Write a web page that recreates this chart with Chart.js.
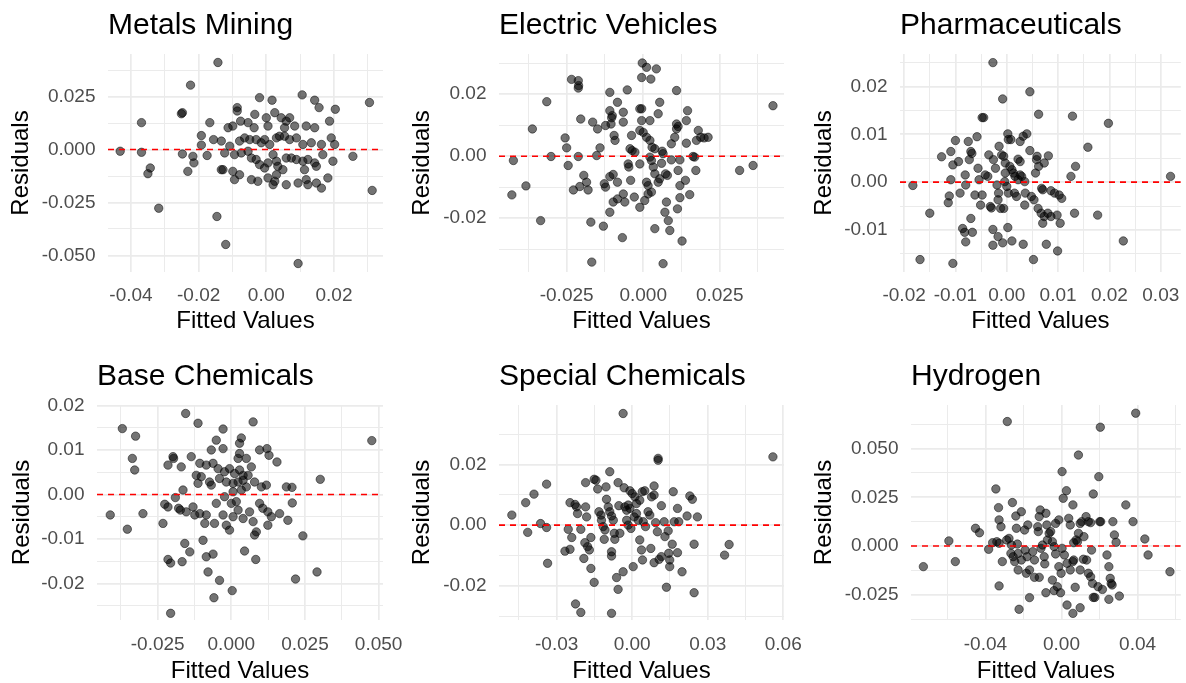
<!DOCTYPE html>
<html>
<head>
<meta charset="utf-8">
<title>Residuals vs Fitted Values</title>
<script src="https://cdn.jsdelivr.net/npm/chart.js@4.4.1/dist/chart.umd.min.js"></script>
<style>
  html, body { margin: 0; padding: 0; background: #fff; }
  #wrap { position: relative; width: 1186px; height: 683px; overflow: hidden; background: #fff; }
  #wrap canvas { position: absolute; }
</style>
</head>
<body>
<div id="wrap"></div>
<script>
// [fitted, residual] per observation, one array per sector model
const metalsMining = [
  [-0.0143,0.0411],[-0.0224,0.0304],[-0.0432,-0.0008],[-0.0369,0.0127],[-0.0369,-0.0013],[-0.0350,-0.0114],[-0.0343,-0.0087],[-0.0318,-0.0277],
  [-0.0251,0.0169],[-0.0248,0.0174],[-0.0248,-0.0021],[-0.0217,-0.0032],[-0.0214,-0.0063],[-0.0232,-0.0103],[-0.0192,0.0066],[-0.0192,0.0021],
  [-0.0167,0.0127],[-0.0156,0.0047],[-0.0175,-0.0028],[-0.0146,-0.0316],[-0.0120,-0.0448],[0.0094,-0.0538],[0.0305,0.0222],[0.0313,-0.0193],
  [0.0256,-0.0032],[-0.0128,-0.0095],
  [-0.0020,0.0245],[0.0017,0.0233],[0.0106,0.0258],[0.0143,0.0233],[0.0156,0.0198],[0.0204,0.0190],[-0.0086,0.0198],[-0.0086,0.0182],
  [-0.0113,0.0103],[-0.0099,0.0111],[-0.0076,0.0134],[-0.0054,0.0127],[-0.0034,0.0166],[-0.0036,0.0103],[0.0000,0.0150],[0.0005,0.0111],
  [0.0025,0.0174],[0.0044,0.0150],[0.0059,0.0134],[0.0069,0.0150],[0.0054,0.0103],[0.0084,0.0111],[0.0118,0.0111],[0.0143,0.0103],
  [0.0187,0.0134],[-0.0133,0.0040],[-0.0108,0.0016],[-0.0079,0.0040],[-0.0064,0.0055],[-0.0049,0.0047],[-0.0030,0.0047],[-0.0015,0.0032],
  [-0.0005,0.0047],[0.0010,0.0024],[0.0030,0.0055],[0.0039,0.0063],[0.0054,0.0063],[0.0069,0.0047],[0.0089,0.0055],[0.0108,0.0024],
  [0.0133,0.0032],[0.0163,0.0024],[0.0192,0.0055],[0.0202,0.0024],[-0.0123,-0.0016],[-0.0094,-0.0024],[-0.0074,-0.0016],[-0.0054,-0.0008],
  [-0.0044,-0.0040],[-0.0030,-0.0047],[-0.0020,-0.0071],[-0.0005,-0.0087],[0.0005,-0.0063],[0.0020,-0.0024],[0.0030,-0.0055],[0.0034,-0.0079],
  [0.0049,-0.0095],[0.0059,-0.0040],[0.0074,-0.0040],[0.0089,-0.0047],[0.0108,-0.0055],[0.0123,-0.0047],[0.0143,-0.0063],[0.0148,-0.0079],
  [0.0167,-0.0024],[0.0197,-0.0055],[-0.0133,-0.0095],[-0.0099,-0.0103],[-0.0079,-0.0119],[-0.0094,-0.0142],[-0.0044,-0.0142],[-0.0025,-0.0150],
  [0.0005,-0.0134],[0.0025,-0.0150],[0.0030,-0.0119],[0.0020,-0.0166],[0.0059,-0.0166],[0.0094,-0.0158],[0.0118,-0.0142],[0.0123,-0.0166],
  [0.0148,-0.0158],[0.0163,-0.0182],[0.0182,-0.0134],[0.0113,-0.0095]
];
const electricVehicles = [
  [-0.0429,-0.0125],[-0.0424,-0.0014],[-0.0383,-0.0096],[-0.0362,0.0088],[-0.0335,-0.0208],[-0.0315,0.0176],[-0.0301,-0.0001],[-0.0255,0.0059],
  [-0.0250,0.0027],[-0.0245,-0.0030],[-0.0234,0.0248],[-0.0212,0.0244],[-0.0211,0.0228],[-0.0212,0.0220],[-0.0204,0.0120],[-0.0212,-0.0001],
  [-0.0228,-0.0109],[-0.0207,-0.0098],[-0.0194,-0.0062],[-0.0185,-0.0084],[-0.0180,-0.0109],[-0.0171,-0.0213],[-0.0168,-0.0342],[-0.0165,0.0110],
  [-0.0149,0.0088],[-0.0152,0.0002],[-0.0141,0.0027],[-0.0130,-0.0226],[-0.0127,-0.0089],[-0.0123,-0.0100],[-0.0109,0.0206],[-0.0123,0.0099],
  [-0.0105,0.0104],[-0.0101,0.0131],[-0.0109,0.0147],[-0.0103,0.0124],[-0.0095,0.0067],[-0.0084,0.0174],[-0.0065,0.0142],[-0.0065,0.0110],
  [-0.0092,0.0051],[-0.0109,-0.0066],[-0.0098,-0.0059],[-0.0084,-0.0084],[-0.0109,-0.0181],[-0.0098,-0.0148],[-0.0084,-0.0138],[-0.0065,-0.0122],
  [-0.0060,-0.0148],[-0.0068,-0.0263],[-0.0052,0.0214],[-0.0049,-0.0025],[-0.0047,-0.0035],[-0.0041,-0.0078],[-0.0038,0.0067],[-0.0029,-0.0132],
  [-0.0043,0.0024],[-0.0036,0.0018],[-0.0027,0.0013],[-0.0011,-0.0165],[-0.0011,-0.0025],[-0.0003,0.0301],[0.0011,0.0287],[0.0043,0.0282],
  [0.0025,0.0249],[-0.0005,0.0254],[-0.0011,0.0153],[-0.0005,0.0153],[-0.0005,0.0115],[0.0022,0.0115],[-0.0011,0.0083],[0.0000,0.0077],
  [0.0011,0.0061],[0.0022,0.0051],[0.0029,0.0029],[0.0038,0.0024],[0.0005,-0.0143],[0.0011,-0.0084],[0.0016,-0.0095],[0.0016,-0.0122],
  [0.0027,-0.0116],[0.0038,-0.0057],[0.0033,-0.0035],[0.0027,-0.0014],[0.0022,-0.0003],[0.0038,-0.0234],[0.0049,-0.0084],[0.0054,-0.0073],
  [0.0054,0.0174],[0.0049,0.0137],[0.0062,0.0016],[0.0065,0.0008],[0.0060,-0.0023],[0.0065,-0.0347],[0.0071,-0.0181],[0.0076,-0.0148],
  [0.0082,-0.0208],[0.0087,-0.0240],[0.0079,-0.0062],[0.0073,-0.0057],[0.0092,-0.0012],[0.0092,0.0040],[0.0109,0.0212],[0.0103,0.0061],
  [0.0109,0.0088],[0.0109,0.0104],[0.0114,0.0096],[0.0120,-0.0012],[0.0114,-0.0046],[0.0112,-0.0170],[0.0120,-0.0095],[0.0120,-0.0134],
  [0.0127,-0.0274],[0.0138,-0.0078],[0.0141,0.0042],[0.0141,0.0115],[0.0145,0.0147],[0.0152,-0.0124],[0.0163,-0.0001],[0.0168,-0.0003],
  [0.0172,-0.0046],[0.0174,0.0051],[0.0180,0.0083],[0.0188,0.0061],[0.0199,0.0059],[0.0212,0.0061],[0.0315,-0.0046],[0.0359,-0.0030],
  [0.0424,0.0163]
];
const pharmaceuticals = [
  [-0.0183,-0.0007],[-0.0169,-0.0162],[-0.0150,-0.0065],[-0.0127,0.0053],[-0.0109,0.0005],[-0.0109,0.0064],[-0.0112,-0.0029],[-0.0114,-0.0043],
  [-0.0105,-0.0170],[-0.0100,0.0087],[-0.0105,0.0036],[-0.0094,0.0043],[-0.0091,-0.0023],[-0.0086,-0.0097],[-0.0082,-0.0105],[-0.0080,-0.0125],
  [-0.0081,0.0015],[-0.0080,-0.0006],[-0.0075,0.0085],[-0.0070,0.0064],[-0.0068,0.0060],[-0.0073,0.0047],[-0.0070,-0.0076],[-0.0067,-0.0105],
  [-0.0062,-0.0027],[-0.0058,0.0095],[-0.0054,0.0005],[-0.0056,0.0029],[-0.0051,-0.0048],[-0.0048,-0.0027],[-0.0048,0.0135],[-0.0045,0.0135],
  [-0.0042,0.0015],[-0.0037,0.0012],[-0.0035,0.0057],[-0.0032,-0.0051],[-0.0030,-0.0054],[-0.0027,0.0250],[-0.0027,-0.0099],[-0.0027,-0.0132],
  [-0.0026,0.0047],[-0.0022,0.0029],[-0.0019,-0.0006],[-0.0016,-0.0023],[-0.0017,-0.0037],[-0.0017,-0.0114],[-0.0015,0.0075],[-0.0012,-0.0055],
  [-0.0006,-0.0055],[-0.0008,0.0174],[-0.0010,0.0057],[-0.0006,0.0054],[-0.0003,0.0040],[-0.0003,0.0019],[-0.0004,0.0001],[0.0000,-0.0009],
  [0.0003,-0.0023],[-0.0008,-0.0127],[0.0002,0.0101],[0.0003,0.0089],[0.0008,0.0089],[0.0002,-0.0095],[0.0006,0.0033],[0.0010,0.0026],
  [0.0013,0.0019],[0.0016,0.0012],[0.0022,0.0005],[0.0026,0.0015],[0.0029,0.0012],[0.0010,-0.0123],[0.0015,-0.0023],[0.0019,-0.0030],
  [0.0022,0.0048],[0.0026,0.0043],[0.0026,0.0085],[0.0032,0.0096],[0.0039,0.0101],[0.0032,-0.0130],[0.0035,0.0001],[0.0036,-0.0023],
  [0.0035,-0.0048],[0.0045,0.0189],[0.0045,0.0066],[0.0048,-0.0030],[0.0053,-0.0037],[0.0052,-0.0162],[0.0058,0.0047],[0.0059,0.0054],
  [0.0062,0.0142],[0.0056,0.0019],[0.0062,0.0033],[0.0061,-0.0055],[0.0067,-0.0065],[0.0068,-0.0013],[0.0070,-0.0016],[0.0070,-0.0086],
  [0.0073,-0.0072],[0.0080,-0.0065],[0.0086,-0.0072],[0.0077,-0.0130],[0.0073,0.0040],[0.0081,0.0055],[0.0086,-0.0018],[0.0093,-0.0023],
  [0.0102,-0.0027],[0.0107,-0.0034],[0.0098,-0.0069],[0.0099,-0.0144],[0.0104,-0.0086],[0.0125,0.0012],[0.0128,0.0138],[0.0132,-0.0065],
  [0.0134,0.0033],[0.0158,0.0073],[0.0177,-0.0069],[0.0198,0.0123],[0.0227,-0.0123],[0.0319,0.0012]
];
const baseChemicals = [
  [-0.0411,-0.0046],[-0.0370,0.0148],[-0.0353,-0.0078],[-0.0336,0.0081],[-0.0328,0.0055],[-0.0325,0.0131],[-0.0300,-0.0043],[-0.0232,-0.0065],
  [-0.0226,-0.0022],[-0.0215,-0.0028],[-0.0215,0.0066],[-0.0215,-0.0146],[-0.0206,-0.0154],[-0.0206,-0.0267],[-0.0198,0.0085],[-0.0196,0.0081],
  [-0.0190,-0.0007],[-0.0179,-0.0031],[-0.0173,-0.0035],[-0.0167,-0.0151],[-0.0155,0.0182],[-0.0141,-0.0129],[-0.0085,-0.0140],[-0.0079,-0.0174],
  [-0.0062,-0.0134],[-0.0059,-0.0232],[-0.0040,-0.0193],[0.0003,-0.0216],[0.0045,-0.0127],[0.0083,-0.0146],[0.0206,0.0016],[0.0207,-0.0019],
  [0.0218,-0.0190],[0.0243,-0.0093],[0.0291,-0.0174],[0.0302,0.0034],[0.0477,0.0121],
  [-0.0113,0.0160],[0.0074,0.0163],[-0.0028,0.0147],[0.0034,0.0127],[0.0028,0.0115],[-0.0051,0.0122],[-0.0068,0.0100],[-0.0028,0.0103],
  [-0.0136,0.0085],[0.0096,0.0100],[0.0121,0.0103],[0.0128,0.0088],[0.0155,0.0073],[-0.0170,0.0062],[0.0028,0.0092],[0.0023,0.0081],
  [0.0051,0.0081],[0.0068,0.0062],[-0.0107,0.0070],[-0.0085,0.0066],[-0.0062,0.0070],[-0.0045,0.0058],[-0.0023,0.0051],[-0.0006,0.0058],
  [0.0011,0.0047],[0.0028,0.0055],[0.0040,0.0043],[0.0057,0.0043],[-0.0119,0.0043],[-0.0102,0.0040],[-0.0074,0.0028],[-0.0040,0.0036],
  [-0.0017,0.0028],[0.0006,0.0025],[0.0023,0.0028],[0.0040,0.0032],[0.0051,0.0017],[0.0079,0.0028],[-0.0113,0.0025],[-0.0068,0.0021],
  [0.0006,0.0006],[0.0034,0.0010],[0.0102,0.0017],[0.0119,0.0021],[-0.0164,0.0010],[0.0187,0.0017],[-0.0023,-0.0005],[0.0000,-0.0020],
  [0.0017,-0.0016],[-0.0051,-0.0020],[-0.0130,-0.0028],[-0.0107,-0.0043],[-0.0153,-0.0039],[-0.0085,-0.0046],[-0.0124,-0.0046],[0.0023,-0.0035],
  [0.0062,-0.0039],[0.0096,-0.0020],[0.0107,-0.0031],[0.0124,-0.0039],[0.0136,-0.0050],[0.0164,-0.0043],[0.0074,-0.0061],[0.0040,-0.0054],
  [0.0006,-0.0050],[-0.0028,-0.0046],[-0.0057,-0.0065],[-0.0017,-0.0069],[-0.0006,-0.0080],[0.0085,-0.0084],[0.0079,-0.0091],[0.0124,-0.0069],
  [0.0192,-0.0058],[-0.0090,-0.0065],[-0.0096,-0.0103],[-0.0158,-0.0110]
];
const specialChemicals = [
  [-0.0478,0.0033],[-0.0423,0.0074],[-0.0415,-0.0024],[-0.0390,0.0102],[-0.0364,0.0005],[-0.0340,0.0135],[-0.0340,-0.0008],[-0.0336,-0.0126],
  [-0.0267,-0.0086],[-0.0247,-0.0080],[-0.0254,-0.0014],[-0.0247,0.0074],[-0.0240,-0.0041],[-0.0227,0.0068],[-0.0221,0.0060],[-0.0225,-0.0260],
  [-0.0217,0.0038],[-0.0204,-0.0288],[-0.0204,-0.0014],[-0.0192,-0.0110],[-0.0185,0.0140],[-0.0185,0.0060],[-0.0181,0.0027],[-0.0188,-0.0058],
  [-0.0177,-0.0071],[-0.0170,-0.0082],[-0.0164,-0.0041],[-0.0164,-0.0143],[-0.0151,0.0151],[-0.0144,0.0148],[-0.0151,-0.0189],[-0.0137,0.0119],
  [-0.0132,0.0044],[-0.0124,0.0033],[-0.0122,0.0016],[-0.0115,-0.0005],[-0.0108,-0.0016],[-0.0111,-0.0047],[-0.0104,0.0126],[-0.0102,0.0085],
  [-0.0095,0.0060],[-0.0089,0.0044],[-0.0089,0.0176],[-0.0082,0.0030],[-0.0075,0.0016],[-0.0082,-0.0088],[-0.0082,-0.0102],[-0.0082,-0.0291],
  [-0.0071,-0.0027],[-0.0069,-0.0047],[-0.0062,-0.0173],[-0.0056,0.0140],[-0.0056,-0.0212],[-0.0053,0.0064],[-0.0049,-0.0027],[-0.0036,0.0368],
  [-0.0036,-0.0154],[-0.0032,0.0123],[-0.0029,0.0060],[-0.0022,0.0049],[-0.0016,0.0066],[-0.0009,0.0055],[-0.0022,0.0016],[-0.0016,0.0000],
  [-0.0005,-0.0011],[-0.0009,0.0113],[0.0000,0.0104],[0.0011,0.0093],[0.0004,-0.0137],[0.0008,0.0027],[0.0017,0.0038],[0.0024,0.0016],
  [0.0017,0.0071],[0.0030,0.0082],[0.0030,-0.0049],[0.0037,-0.0082],[0.0040,0.0110],[0.0050,0.0113],[0.0041,-0.0115],[0.0044,0.0011],
  [0.0053,-0.0005],[0.0063,0.0044],[0.0070,0.0033],[0.0074,-0.0077],[0.0077,0.0093],[0.0087,0.0099],[0.0087,0.0129],[0.0087,-0.0124],
  [0.0093,0.0008],[0.0100,-0.0022],[0.0103,0.0220],[0.0103,0.0214],[0.0107,-0.0113],[0.0116,-0.0104],[0.0116,0.0064],[0.0127,0.0011],
  [0.0130,-0.0038],[0.0136,-0.0205],[0.0143,-0.0019],[0.0145,-0.0093],[0.0149,-0.0115],[0.0149,-0.0137],[0.0159,-0.0063],[0.0163,0.0110],
  [0.0167,0.0011],[0.0180,0.0055],[0.0180,-0.0091],[0.0185,0.0011],[0.0198,-0.0154],[0.0218,0.0030],[0.0229,0.0096],[0.0239,0.0085],
  [0.0246,-0.0063],[0.0246,-0.0223],[0.0259,0.0027],[0.0367,-0.0099],[0.0385,-0.0064],[0.0559,0.0225]
];
const hydrogen = [
  [-0.0726,-0.0106],[-0.0592,0.0026],[-0.0558,-0.0080],[-0.0452,0.0091],[-0.0431,0.0068],[-0.0383,-0.0017],[-0.0362,0.0017],[-0.0340,0.0022],
  [-0.0328,0.0014],[-0.0345,0.0293],[-0.0331,0.0197],[-0.0328,0.0134],[-0.0318,0.0099],[-0.0328,-0.0205],[-0.0311,-0.0080],[-0.0285,0.0639],
  [-0.0288,0.0031],[-0.0276,0.0039],[-0.0263,0.0005],[-0.0266,-0.0038],[-0.0254,-0.0055],[-0.0246,-0.0080],[-0.0258,0.0223],[-0.0240,0.0154],
  [-0.0237,0.0091],[-0.0232,0.0010],[-0.0228,-0.0038],[-0.0228,-0.0123],[-0.0211,-0.0072],[-0.0223,-0.0325],[-0.0211,0.0176],[-0.0194,0.0082],
  [-0.0177,0.0108],[-0.0191,-0.0021],[-0.0181,-0.0055],[-0.0185,-0.0140],[-0.0168,-0.0123],[-0.0168,-0.0265],[-0.0151,-0.0029],[-0.0142,-0.0072],
  [-0.0142,-0.0161],[-0.0117,-0.0161],[-0.0125,0.0099],[-0.0122,0.0074],[-0.0117,0.0151],[-0.0112,0.0185],[-0.0108,-0.0012],[-0.0100,0.0005],
  [-0.0091,-0.0055],[-0.0088,-0.0092],[-0.0082,0.0168],[-0.0077,0.0108],[-0.0082,-0.0240],[-0.0074,0.0031],[-0.0065,0.0065],[-0.0057,0.0074],
  [-0.0048,0.0022],[-0.0039,-0.0003],[-0.0031,-0.0041],[-0.0048,-0.0175],[-0.0039,-0.0229],[-0.0022,-0.0209],[-0.0031,0.0116],[-0.0014,0.0134],
  [-0.0014,-0.0106],[-0.0002,-0.0140],[-0.0005,-0.0240],[0.0003,0.0382],[0.0009,0.0245],[0.0026,0.0284],[0.0003,-0.0012],[0.0015,-0.0046],
  [0.0029,-0.0089],[0.0029,-0.0303],[0.0038,0.0142],[0.0046,0.0108],[0.0046,-0.0123],[0.0060,0.0211],[0.0064,0.0017],[0.0077,0.0031],
  [0.0084,0.0022],[0.0060,-0.0080],[0.0064,-0.0072],[0.0060,-0.0346],[0.0072,-0.0212],[0.0089,0.0467],[0.0089,0.0065],[0.0098,0.0116],
  [0.0106,0.0125],[0.0098,-0.0123],[0.0115,-0.0068],[0.0098,-0.0317],[0.0118,0.0048],[0.0129,0.0151],[0.0141,0.0125],[0.0153,0.0120],
  [0.0132,-0.0072],[0.0141,-0.0140],[0.0153,-0.0158],[0.0158,-0.0021],[0.0163,-0.0192],[0.0167,-0.0264],[0.0175,-0.0264],[0.0167,0.0267],
  [0.0192,-0.0209],[0.0196,0.0356],[0.0201,0.0125],[0.0206,0.0125],[0.0204,0.0610],[0.0215,-0.0223],[0.0239,-0.0046],[0.0249,-0.0106],
  [0.0256,-0.0166],[0.0261,-0.0192],[0.0266,-0.0200],[0.0249,-0.0274],[0.0270,0.0125],[0.0278,0.0057],[0.0287,0.0019],[0.0304,-0.0257],
  [0.0338,0.0211],[0.0376,0.0125],[0.0390,0.0682],[0.0438,0.0036],[0.0455,-0.0046],[0.0570,-0.0132]
];

const panelTitles = ['Metals Mining', 'Electric Vehicles', 'Pharmaceuticals', 'Base Chemicals', 'Special Chemicals', 'Hydrogen'];

// labelled breaks per axis; minor grid lines fall halfway between
const mmXTicks = [-0.04, -0.02, 0, 0.02];          const mmXLabels = ['-0.04', '-0.02', '0.00', '0.02'];
const mmYTicks = [-0.05, -0.025, 0, 0.025];        const mmYLabels = ['-0.050', '-0.025', '0.000', '0.025'];
const evXTicks = [-0.025, 0, 0.025];               const evXLabels = ['-0.025', '0.000', '0.025'];
const evYTicks = [-0.02, 0, 0.02];                 const evYLabels = ['-0.02', '0.00', '0.02'];
const phXTicks = [-0.02, -0.01, 0, 0.01, 0.02, 0.03]; const phXLabels = ['-0.02', '-0.01', '0.00', '0.01', '0.02', '0.03'];
const phYTicks = [-0.01, 0, 0.01, 0.02];           const phYLabels = ['-0.01', '0.00', '0.01', '0.02'];
const bcXTicks = [-0.025, 0, 0.025, 0.05];         const bcXLabels = ['-0.025', '0.000', '0.025', '0.050'];
const bcYTicks = [-0.02, -0.01, 0, 0.01, 0.02];    const bcYLabels = ['-0.02', '-0.01', '0.00', '0.01', '0.02'];
const scXTicks = [-0.03, 0, 0.03, 0.06];           const scXLabels = ['-0.03', '0.00', '0.03', '0.06'];
const scYTicks = [-0.02, 0, 0.02];                 const scYLabels = ['-0.02', '0.00', '0.02'];
const hyXTicks = [-0.04, 0, 0.04];                 const hyXLabels = ['-0.04', '0.00', '0.04'];
const hyYTicks = [-0.025, 0, 0.025, 0.05];         const hyYLabels = ['-0.025', '0.000', '0.025', '0.050'];

const FONT = 'Liberation Sans';
const TITLE_SIZE = 30, AXIS_SIZE = 24, TICK_SIZE = 19, LH = 1.2;

// vertical layout of each row of plots (page pixels)
const rows = [
  { top: 0,   height: 340, titleMid: 26,  y0: 54,  y1: 272, tickPad: 12,   xTitleMid: 321 },
  { top: 340, height: 346, titleMid: 377, y0: 405, y1: 620, tickPad: 13.5, xTitleMid: 671 }
];

const panels = [
  { points: metalsMining, row: 0, left: 0, width: 430, x0: 108, x1: 383, yTitleMid: 21,
    xLim: [-0.0468, 0.0345], yLim: [-0.0578, 0.0451], xt: [mmXTicks, mmXLabels], yt: [mmYTicks, mmYLabels] },
  { points: electricVehicles, row: 0, left: 395, width: 430, x0: 499, x1: 784, yTitleMid: 27.5,
    xLim: [-0.0471, 0.0460], yLim: [-0.0374, 0.0330], xt: [evXTicks, evXLabels], yt: [evYTicks, evYLabels] },
  { points: pharmaceuticals, row: 0, left: 790, width: 396, x0: 900, x1: 1185, yTitleMid: 34,
    xLim: [-0.0208, 0.0339], yLim: [-0.0188, 0.0268], xt: [phXTicks, phXLabels], yt: [phYTicks, phYLabels] },
  { points: baseChemicals, row: 1, left: 0, width: 430, x0: 97, x1: 383, yTitleMid: 22,
    xLim: [-0.0456, 0.0515], yLim: [-0.0282, 0.0201], xt: [bcXTicks, bcXLabels], yt: [bcYTicks, bcYLabels] },
  { points: specialChemicals, row: 1, left: 395, width: 430, x0: 499, x1: 784, yTitleMid: 27.5,
    xLim: [-0.0529, 0.0603], yLim: [-0.0313, 0.0396], xt: [scXTicks, scXLabels], yt: [scYTicks, scYLabels] },
  { points: hydrogen, row: 1, left: 790, width: 396, x0: 911, x1: 1186, yTitleMid: 34,
    xLim: [-0.0791, 0.0627], yLim: [-0.0380, 0.0724], xt: [hyXTicks, hyXLabels], yt: [hyYTicks, hyYLabels] }
];

// every half-step gets a grid line, only the listed breaks get a label
function gridTicks(values, labels, lim) {
  const half = (values[1] - values[0]) / 2;
  const out = [];
  for (let k = Math.ceil(lim[0] / half - 1e-9); k * half <= lim[1] + 1e-12; k++) {
    const v = k * half;
    const i = values.findIndex(t => Math.abs(t - v) < half / 10);
    out.push({ value: v, main: i >= 0, text: i >= 0 ? labels[i] : '' });
  }
  return out;
}

function axis(ticks, lim, title, titlePad, tickPad, fit) {
  return {
    type: 'linear',
    min: lim[0],
    max: lim[1],
    afterBuildTicks: (scale) => { scale.ticks = ticks.map(t => ({ ...t })); },
    afterFit: fit,
    border: { display: false },
    grid: {
      color: '#EBEBEB',
      lineWidth: (ctx) => (ctx.tick && ctx.tick.main ? 1.7 : 1),
      drawTicks: false
    },
    ticks: {
      autoSkip: false,
      maxRotation: 0,
      padding: tickPad,
      color: '#4D4D4D',
      font: { family: FONT, size: TICK_SIZE },
      callback: (value, index, all) => all[index].text
    },
    title: {
      display: true,
      text: title,
      color: '#000',
      font: { family: FONT, size: AXIS_SIZE },
      padding: titlePad
    }
  };
}

const wrap = document.getElementById('wrap');

panels.forEach((p, idx) => {
  const r = rows[p.row];
  const canvas = document.createElement('canvas');
  canvas.width = p.width;
  canvas.height = r.height;
  canvas.style.left = p.left + 'px';
  canvas.style.top = r.top + 'px';
  wrap.appendChild(canvas);

  const titleLine = TITLE_SIZE * LH;
  const titleTop = r.titleMid - r.top - titleLine / 2;
  const titleBottom = r.y0 - r.top - titleTop - titleLine;
  const yAxisWidth = p.x0 - p.left;
  const xAxisHeight = r.xTitleMid + AXIS_SIZE * LH / 2 - r.y1;

  const xScale = axis(gridTicks(p.xt[0], p.xt[1], p.xLim), p.xLim, 'Fitted Values',
    { top: 0, bottom: 0 }, r.tickPad,
    (s) => { s.height = xAxisHeight; s.paddingLeft = 0; s.paddingRight = 0; });
  const yScale = axis(gridTicks(p.yt[0], p.yt[1], p.yLim), p.yLim, 'Residuals',
    { top: p.yTitleMid - AXIS_SIZE * LH / 2, bottom: 0 }, 12.5,
    (s) => { s.width = yAxisWidth; s.paddingTop = 0; s.paddingBottom = 0; });

  new Chart(canvas, {
    type: 'scatter',
    data: {
      datasets: [
        {
          // zero-residual reference line
          type: 'line',
          data: [{ x: p.xLim[0], y: 0 }, { x: p.xLim[1], y: 0 }],
          showLine: true,
          borderColor: '#FF0000',
          borderWidth: 1.6,
          borderDash: [6, 5],
          pointRadius: 0,
          fill: false
        },
        {
          data: p.points.map(([x, y]) => ({ x, y })),
          backgroundColor: 'rgba(0,0,0,0.55)',
          borderColor: 'rgba(0,0,0,0.5)',
          borderWidth: 1,
          pointRadius: 4.2,
          pointHoverRadius: 4.2
        }
      ]
    },
    options: {
      responsive: false,
      animation: false,
      devicePixelRatio: 1,
      layout: {
        padding: {
          left: 0,
          top: 0,
          right: p.width - (p.x1 - p.left),
          bottom: r.height - (r.y1 - r.top) - xAxisHeight
        }
      },
      plugins: {
        legend: { display: false },
        tooltip: { enabled: false },
        title: {
          display: true,
          text: panelTitles[idx],
          align: 'start',
          fullSize: false,
          color: '#000',
          font: { family: FONT, size: TITLE_SIZE, weight: 'normal' },
          padding: { top: titleTop, bottom: titleBottom }
        }
      },
      scales: { x: xScale, y: yScale }
    }
  });
});
</script>
</body>
</html>
